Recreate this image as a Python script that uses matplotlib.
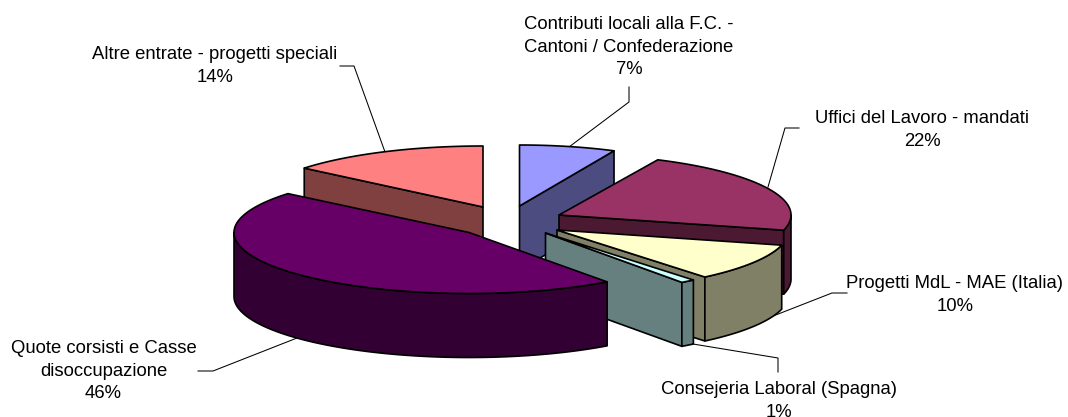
import numpy as np
import matplotlib
matplotlib.use("Agg")
import matplotlib.pyplot as plt
from matplotlib.patches import Polygon

plt.rcParams['font.family'] = ['Liberation Sans', 'DejaVu Sans']

# values in % clockwise from 12 o'clock
names = ["Contributi locali alla F.C. -\nCantoni / Confederazione",
         "Uffici del Lavoro - mandati",
         "Progetti MdL - MAE (Italia)",
         "Consejeria Laboral (Spagna)",
         "Quote corsisti e Casse\ndisoccupazione",
         "Altre entrate - progetti speciali"]
values = [7, 22, 10, 1, 46, 14]
top_colors = ["#9999FF", "#993366", "#FFFFCC", "#CCFFFF", "#660066", "#FF8080"]
side_colors = ["#4C4C80", "#4C1933", "#808066", "#668080", "#330033", "#804040"]

# where the exploded slices sit, in pixels
centers = [(519.5, 206), (559, 215), (557, 230), (545.5, 233), (469, 232.5), (483, 207)]
radii = [222, 232, 232, 232, 235, 232]
draw_order = [0, 5, 1, 2, 3, 4]
label_pos = [(629, 16), (922, 110), (955, 275), (779, 381), (103.5, 340), (215, 46)]
leaders = [[(629, 87), (629, 102), (569, 147)],
           [(799, 128), (785, 128), (768, 187)],
           [(847, 293), (832, 293), (768, 318)],
           [(778, 372), (778, 358), (693, 344)],
           [(198, 371), (213, 371), (297, 338)],
           [(340, 66), (354, 66), (385, 152)]]

ry = 61
depth = 64
lw = 1.2


def rim(cx, cy, rx, t):
    return np.column_stack([cx + rx * np.sin(t), cy - ry * np.cos(t)])


fig = plt.figure(figsize=(10.68, 4.17), dpi=100)
ax = fig.add_axes([0, 0, 1, 1])
ax.set_xlim(0, 1068)
ax.set_ylim(417, 0)
ax.axis("off")

edges = np.cumsum([0] + values) / sum(values) * 2 * np.pi

for i in draw_order:
    cx, cy = centers[i]
    rx = radii[i]
    t0, t1 = edges[i], edges[i + 1]
    down = np.array([0, depth])
    apex = np.array([[cx, cy]])

    # flat cut faces, only the ones that turn to the viewer
    for t, show in ((t0, np.sin(t0) < -1e-6), (t1, np.sin(t1) > 1e-6)):
        if show:
            p = rim(cx, cy, rx, np.array([t]))
            ax.add_patch(Polygon(np.vstack([apex, p, p + down, apex + down]),
                                 fc=side_colors[i], ec="black", lw=lw, joinstyle="round"))

    # outer wall, front half of the rim
    a = max(t0, np.pi / 2)
    b = min(t1, 3 * np.pi / 2)
    if a < b:
        t = np.linspace(a, b, 80)
        p = rim(cx, cy, rx, t)
        ax.add_patch(Polygon(np.vstack([p, (p + down)[::-1]]),
                             fc=side_colors[i], ec="black", lw=lw, joinstyle="round"))

    # top
    t = np.linspace(t0, t1, 120)
    ax.add_patch(Polygon(np.vstack([apex, rim(cx, cy, rx, t)]),
                         fc=top_colors[i], ec="black", lw=lw, joinstyle="round"))

for pts in leaders:
    xs, ys = zip(*pts)
    ax.plot(xs, ys, color="black", lw=0.75, zorder=0)

for n, v, (x, y) in zip(names, values, label_pos):
    ax.text(x, y, "%s\n%d%%" % (n, v), ha="center", va="top",
            fontsize=13.3, color="black", linespacing=1.43, clip_on=False)

fig.savefig("out.png", dpi=100)
